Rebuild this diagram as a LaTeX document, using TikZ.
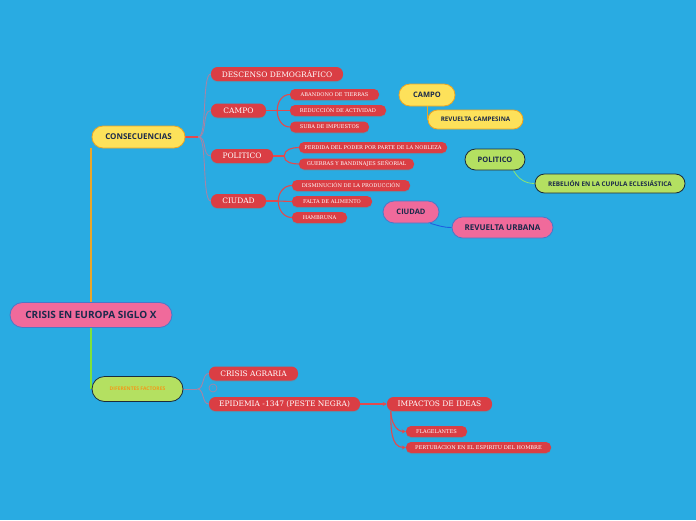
\documentclass[tikz,border=0pt]{standalone}
\usepackage{fontspec}
\newfontfamily\slabfont{DejaVu Serif}
\newfontfamily\sansfont{Open Sans}
\usetikzlibrary{shadows,backgrounds,arrows.meta}
\definecolor{bgc}{HTML}{29ABE2}
\definecolor{redc}{HTML}{DA3E44}
\definecolor{redline}{HTML}{E24A4E}
\definecolor{mauve}{HTML}{A584A6}
\definecolor{navy}{HTML}{1B2A4B}
\definecolor{pinkc}{HTML}{F06A9B}
\definecolor{pinkb}{HTML}{4A78C8}
\definecolor{yelc}{HTML}{FDE15A}
\definecolor{yelb}{HTML}{EFA51F}
\definecolor{grnc}{HTML}{B4E061}
\definecolor{grnb}{HTML}{1B2B3C}
\definecolor{orgtxt}{HTML}{F29A1A}
\definecolor{grnline}{HTML}{7EE23C}
\definecolor{ornline}{HTML}{E8A72A}
\definecolor{blueline}{HTML}{1E5FE0}
\definecolor{lgrn}{HTML}{8EE870}
\begin{document}
\begin{tikzpicture}[x=1pt,y=-1pt,
  redbig/.style={rectangle, rounded corners=6.5pt, fill=redc, text=white,
    font=\slabfont\fontsize{7.5}{8}\selectfont, minimum height=14pt, inner sep=0pt,
    drop shadow={shadow xshift=0pt, shadow yshift=-1pt, opacity=0.35}},
  redsmall/.style={rectangle, rounded corners=5pt, fill=redc, text=white,
    font=\slabfont\fontsize{5.1}{5.5}\selectfont, minimum height=11pt, inner sep=0pt,
    drop shadow={shadow xshift=0pt, shadow yshift=-1pt, opacity=0.35}},
  sansnode/.style={rectangle, inner sep=0pt, text=navy, line width=0.8pt,
    font=\sansfont\bfseries\fontsize{7.5}{8}\selectfont},
  pinknode/.style={sansnode, fill=pinkc, draw=pinkb},
  yelnode/.style={sansnode, fill=yelc, draw=yelb},
  grnnode/.style={sansnode, fill=grnc, draw=grnb},
  redfork/.style={draw=redline, line width=1.1pt},
  mauvefork/.style={draw=mauve, line width=0.9pt},
]
\useasboundingbox (0,0) rectangle (696,520);

% main nodes
\node[pinknode, minimum width=162pt, minimum height=25pt, rounded corners=12.5pt,
  font=\sansfont\bfseries\fontsize{10}{11}\selectfont] (root) at (91,315) {CRISIS EN EUROPA SIGLO X};
\node[yelnode, minimum width=93pt, minimum height=22pt, rounded corners=11pt,
  font=\sansfont\bfseries\fontsize{8}{9}\selectfont] (cons) at (138.5,137) {CONSECUENCIAS};
\node[grnnode, minimum width=91pt, minimum height=25pt, rounded corners=12.5pt,
  text=orgtxt, font=\sansfont\bfseries\fontsize{5}{6}\selectfont] (dif) at (137.5,389) {DIFERENTES FACTORES};

% consecuencias children
\node[redbig, minimum width=132pt] (desc) at (277,74) {DESCENSO DEMOGRÁFICO};
\node[redbig, minimum width=55pt] (campo) at (238.5,110.5) {CAMPO};
\node[redbig, minimum width=62pt] (pol) at (242,156) {POLITICO};
\node[redbig, minimum width=55pt] (ciu) at (238.5,201) {CIUDAD};

\node[redsmall, minimum width=89pt] (aban) at (334.5,94.5) {ABANDONO DE TIERRAS};
\node[redsmall, minimum width=96pt] (redu) at (338,110.5) {REDUCCIÓN DE ACTIVIDAD};
\node[redsmall, minimum width=79pt] (suba) at (329.5,127) {SUBA DE IMPUESTOS};

\node[redsmall, minimum width=148pt] (perd) at (373,147.5) {PERDIDA DEL PODER POR PARTE DE LA NOBLEZA};
\node[redsmall, minimum width=115pt] (guer) at (356.5,164) {GUERRAS Y BANDINAJES SEÑORIAL};

\node[redsmall, minimum width=118pt] (dism) at (351,185.5) {DISMINUCIÓN DE LA PRODUCCIÓN};
\node[redsmall, minimum width=80pt] (falt) at (332,201.5) {FALTA DE ALIMENTO};
\node[redsmall, minimum width=55pt] (hamb) at (319.5,217.5) {HAMBRUNA};

% right-side nodes
\node[yelnode, minimum width=56pt, minimum height=22pt, rounded corners=11pt] (campo2) at (427,95) {CAMPO};
\node[yelnode, minimum width=95pt, minimum height=19pt, rounded corners=9.5pt,
  font=\sansfont\bfseries\fontsize{6.3}{7}\selectfont] (revc) at (475.5,119.5) {REVUELTA CAMPESINA};
\node[grnnode, minimum width=60pt, minimum height=21pt, rounded corners=10.5pt] (pol2) at (495,159.5) {POLITICO};
\node[grnnode, minimum width=150pt, minimum height=19pt, rounded corners=9.5pt,
  font=\sansfont\bfseries\fontsize{6.4}{7}\selectfont] (rebe) at (610,183.5) {REBELIÓN EN LA CUPULA ECLESIÁSTICA};
\node[pinknode, minimum width=56pt, minimum height=22pt, rounded corners=11pt] (ciu2) at (411,212) {CIUDAD};
\node[pinknode, minimum width=101pt, minimum height=21pt, rounded corners=10.5pt,
  font=\sansfont\bfseries\fontsize{8}{9}\selectfont] (revu) at (502.5,227.5) {REVUELTA URBANA};

% diferentes factores children
\node[redbig, minimum width=89pt] (agra) at (253.5,373.5) {CRISIS AGRARIA};
\node[redbig, minimum width=151pt] (epid) at (284.5,404) {EPIDEMIA -1347 (PESTE NEGRA)};
\node[redbig, minimum width=105pt] (impa) at (439.5,404) {IMPACTOS DE IDEAS};
\node[redsmall, minimum width=61pt] (flag) at (436.5,431.5) {FLAGELANTES};
\node[redsmall, minimum width=145pt] (pert) at (478.5,447.5) {PERTUBACION EN EL ESPIRITU DEL HOMBRE};

\node[circle, draw=mauve, line width=0.7pt, minimum size=8pt, inner sep=0pt,
  text=mauve, font=\sansfont\fontsize{4}{4}\selectfont] (coll) at (213,388) {1};

\begin{pgfonlayer}{background}
\fill[bgc] (0,0) rectangle (696,520);
% root connectors
\draw[ornline, line width=1.3pt] (root.north) -- (root.north |- cons.south);
\draw[grnline, line width=1.3pt] (root.south) -- (root.south |- dif.west);

% consecuencias fork
\draw[redfork] (cons.east) -- ++(13,0) coordinate (cj);
\foreach \c in {desc,campo,pol,ciu}
  \draw[mauvefork] (cj) .. controls +(9,0) and +(-9,0) .. (\c.west);

% campo fork
\draw[redfork] (campo.east) -- ++(11,0) coordinate (aj);
\draw[redfork] (aj) -- (redu.west);
\draw[redfork] (aj) to[out=90,in=180] (aban.west);
\draw[redfork] (aj) to[out=-90,in=180] (suba.west);

% politico fork
\draw[redfork] (pol.east) -- ++(11,0) coordinate (pj);
\draw[redfork] (pj) to[out=90,in=180] (perd.west);
\draw[redfork] (pj) to[out=-90,in=180] (guer.west);

% ciudad fork
\draw[redfork] (ciu.east) -- ++(12,0) coordinate (uj);
\draw[redfork] (uj) -- (falt.west);
\draw[redfork] (uj) to[out=90,in=180] (dism.west);
\draw[redfork] (uj) to[out=-90,in=180] (hamb.west);

% diferentes fork
\draw[mauvefork, line width=1pt] (dif.east) -- ++(14,0) coordinate (dj);
\draw[mauvefork] (dj) .. controls +(7,0) and +(-7,0) .. (agra.west);
\draw[mauvefork] (dj) .. controls +(7,0) and +(-7,0) .. (epid.west);

% epidemia -> impactos
\draw[redfork, -{Stealth[length=4pt,width=4pt]}] (epid.east) -- (impa.west);
\draw[redfork, -{Stealth[length=4pt,width=4pt]}] ([xshift=4pt]impa.south west) to[out=-90,in=180] (flag.west);
\draw[redfork, -{Stealth[length=4pt,width=4pt]}] ([xshift=4pt]impa.south west) to[out=-90,in=180] (pert.west);

% right-side connectors
\draw[ornline, line width=0.8pt] (campo2.south) |- (revc.west);
\draw[lgrn, line width=0.8pt] ([xshift=-12pt]pol2.south east) to[out=-60,in=180] (rebe.west);
\draw[blueline, line width=0.9pt] ([xshift=-9pt]ciu2.south east) to[out=-15,in=180] (revu.west);
\end{pgfonlayer}
\end{tikzpicture}
\end{document}
